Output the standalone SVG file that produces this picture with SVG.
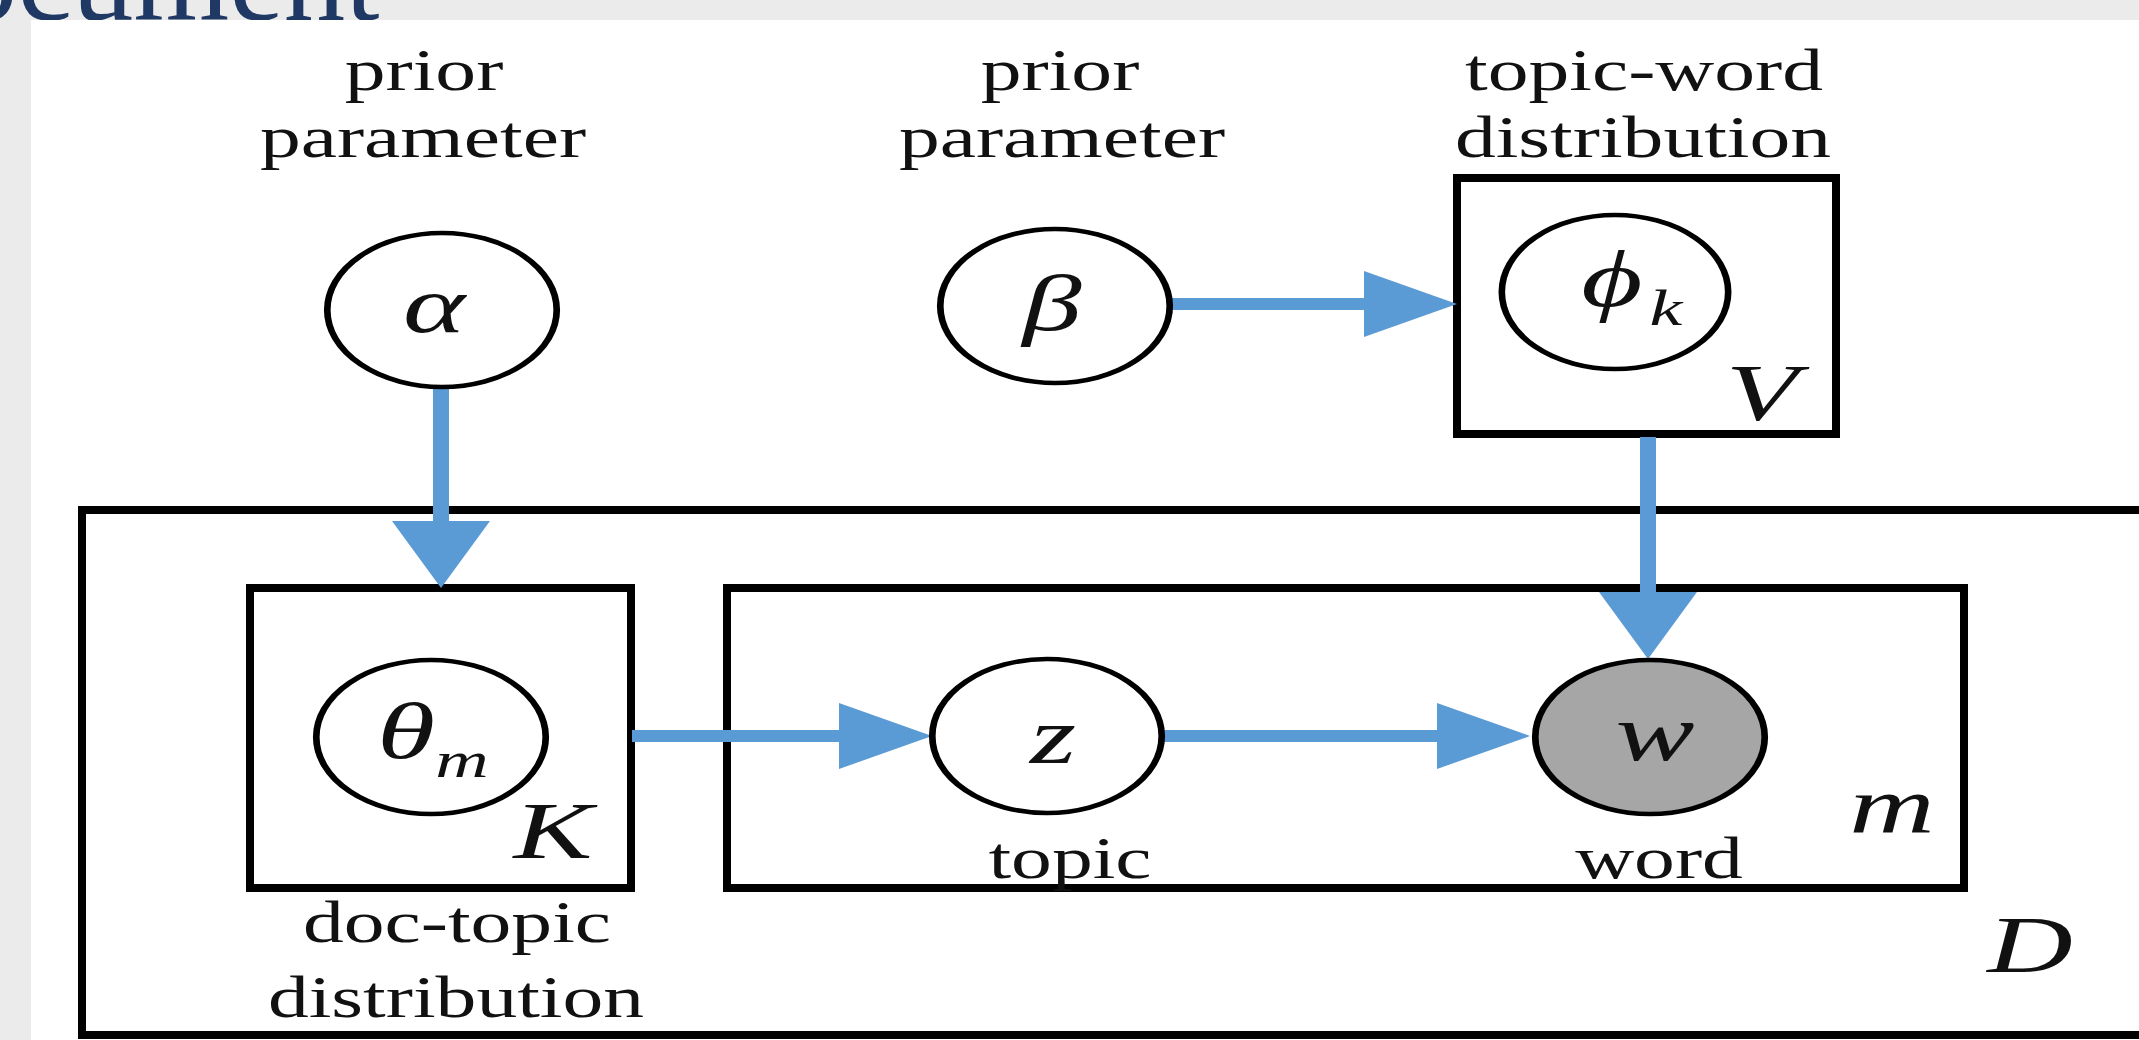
<svg xmlns="http://www.w3.org/2000/svg" width="2139" height="1040" viewBox="0 0 2139 1040">
<defs>
<style>
.lbl{font-family:"Liberation Serif","Times New Roman",serif;font-size:60px;fill:#111;text-anchor:middle}
.sym{font-family:"Liberation Serif","DejaVu Serif",serif;font-style:italic;font-size:80px;fill:#111;text-anchor:middle}
.sub{font-family:"Liberation Serif","DejaVu Serif",serif;font-style:italic;font-size:50px;fill:#111;text-anchor:middle}
.plate{fill:none;stroke:#000;stroke-width:8}
.node{fill:#fff;stroke:#000;stroke-width:4.5}
.obs{fill:#a6a6a6;stroke:#000;stroke-width:4.5}
.eh{fill:none;stroke:#5b9bd5;stroke-width:12;marker-end:url(#mh)}
.ev{fill:none;stroke:#5b9bd5;stroke-width:16;marker-end:url(#mv)}
</style>
<marker id="mh" viewBox="0 0 93 66" refX="1" refY="33" markerWidth="93" markerHeight="66" markerUnits="userSpaceOnUse" orient="auto"><path d="M0,0 L93,33 L0,66 z" fill="#5b9bd5"/></marker>
<marker id="mv" viewBox="0 0 67 98" refX="1" refY="49" markerWidth="67" markerHeight="98" markerUnits="userSpaceOnUse" orient="auto"><path d="M0,0 L67,49 L0,98 z" fill="#5b9bd5"/></marker>
</defs>
<rect width="2139" height="1040" fill="#ebebeb"/>
<text x="-44" y="20" font-family="Liberation Serif, serif" font-size="123" fill="#1f3864">ocument</text>
<rect x="31" y="20" width="2108" height="1020" fill="#fff"/>

<g id="plate-D">
<rect class="plate" x="82" y="510" width="2070" height="525"/>
<text class="sym" transform="translate(2030 972) scale(1.48 1)">D</text>
</g>
<g id="plate-K">
<rect class="plate" x="250" y="588" width="381" height="300"/>
<text class="sym" transform="translate(553 858) scale(1.48 1)">K</text>
<text class="lbl" transform="translate(457 942) scale(1.36 1)">doc-topic</text>
<text class="lbl" transform="translate(456 1017) scale(1.36 1)">distribution</text>
</g>
<g id="plate-m">
<rect class="plate" x="727" y="588" width="1237" height="300"/>
<text class="sym" transform="translate(1892 832) scale(1.48 1)">m</text>
</g>
<g id="plate-V">
<rect class="plate" x="1457" y="178" width="379" height="256"/>
<text class="sym" transform="translate(1762 420) scale(1.48 1)">V</text>
<text class="lbl" transform="translate(1644 90) scale(1.36 1)">topic-word</text>
<text class="lbl" transform="translate(1643 157) scale(1.36 1)">distribution</text>
</g>

<g id="connectors">
<path class="ev" d="M441,387 V522"/>
<path class="eh" d="M1170,304 H1365"/>
<path class="ev" d="M1648,437 V593"/>
<path class="eh" d="M632,736 H840"/>
<path class="eh" d="M1161,736 H1438"/>
</g>

<g id="node-alpha">
<text class="lbl" transform="translate(424 90) scale(1.36 1)">prior</text>
<text class="lbl" transform="translate(423 157) scale(1.36 1)">parameter</text>
<circle class="node" r="77" transform="translate(442 310) scale(1.49 1)"/>
<text class="sym" transform="translate(434 332) scale(1.48 1)">α</text>
</g>
<g id="node-beta">
<text class="lbl" transform="translate(1060 90) scale(1.36 1)">prior</text>
<text class="lbl" transform="translate(1062 157) scale(1.36 1)">parameter</text>
<circle class="node" r="77" transform="translate(1055 306) scale(1.49 1)"/>
<text class="sym" transform="translate(1052 330) scale(1.48 1)">β</text>
</g>
<g id="node-phi">
<circle class="node" r="77" transform="translate(1615 292) scale(1.47 1)"/>
<text class="sym" transform="translate(1612 306) scale(1.48 1)">ϕ</text>
<text class="sub" transform="translate(1666 325) scale(1.48 1)">k</text>
</g>
<g id="node-theta">
<circle class="node" r="77" transform="translate(431 737) scale(1.49 1)"/>
<text class="sym" transform="translate(406 758) scale(1.48 1)">θ</text>
<text class="sub" transform="translate(462 777) scale(1.48 1)">m</text>
</g>
<g id="node-z">
<circle class="node" r="77" transform="translate(1047 736) scale(1.49 1)"/>
<text class="sym" transform="translate(1053 763) scale(1.48 1)">z</text>
<text class="lbl" transform="translate(1070 878) scale(1.36 1)">topic</text>
</g>
<g id="node-w">
<circle class="obs" r="77" transform="translate(1650 737) scale(1.49 1)"/>
<text class="sym" transform="translate(1655 760) scale(1.48 1)">w</text>
<text class="lbl" transform="translate(1659 878) scale(1.36 1)">word</text>
</g>
</svg>
